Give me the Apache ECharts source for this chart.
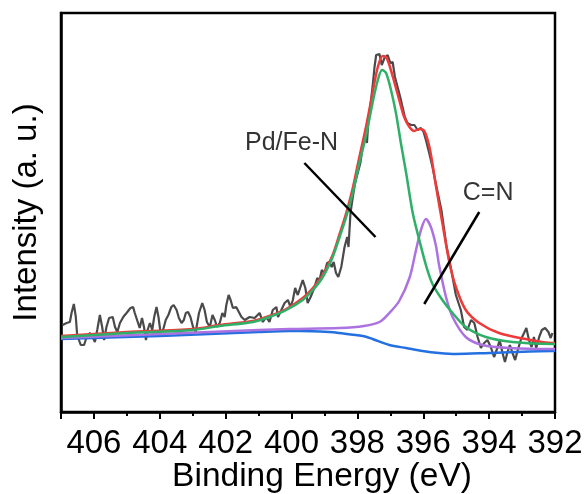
<!DOCTYPE html>
<html>
<head>
<meta charset="utf-8">
<title>N 1s XPS</title>
<script src="https://cdn.jsdelivr.net/npm/echarts@6/dist/echarts.min.js"></script>
<style>
  html, body { margin: 0; padding: 0; background: #fff; }
  #chart { width: 587px; height: 494px; }
</style>
</head>
<body>
<div id="chart"></div>
<script>
// N 1s spectrum: [binding energy (eV), intensity (a. u.)]
const rawSpectrum = [
  [406.95,87],[406.83,89],[406.73,90],[406.68,99],[406.61,108],[406.55,95],[406.51,77],[406.40,67],
  [406.30,67],[406.22,75],[406.12,79],[406.04,75],[405.97,70],[405.90,82],[405.82,97],[405.75,85],
  [405.69,72],[405.62,85],[405.54,94],[405.43,95],[405.36,85],[405.29,80],[405.21,89],[405.11,95],
  [405.01,99],[404.96,97],[404.89,104],[404.81,105],[404.76,99],[404.69,92],[404.61,84],[404.54,94],
  [404.48,85],[404.42,72],[404.37,82],[404.30,89],[404.23,82],[404.17,95],[404.10,105],[404.04,95],
  [403.98,80],[403.90,82],[403.82,92],[403.74,97],[403.65,105],[403.58,107],[403.49,102],[403.42,94],
  [403.34,89],[403.27,92],[403.21,99],[403.14,100],[403.07,95],[402.99,85],[402.91,80],[402.81,99],
  [402.71,109],[402.64,102],[402.57,90],[402.48,85],[402.40,97],[402.33,92],[402.26,85],[402.18,89],
  [402.10,99],[402.03,95],[401.98,107],[401.91,117],[401.85,112],[401.78,104],[401.68,105],[401.60,100],
  [401.52,95],[401.42,92],[401.27,95],[401.12,94],[400.97,99],[400.87,90],[400.77,95],[400.67,90],
  [400.57,102],[400.46,105],[400.41,95],[400.31,102],[400.21,109],[400.11,112],[400.03,105],[399.96,112],
  [399.89,124],[399.81,117],[399.73,125],[399.66,132],[399.58,124],[399.51,109],[399.42,115],[399.30,125],
  [399.22,134],[399.15,132],[399.08,142],[399.00,139],[398.92,149],[398.85,150],[398.78,145],[398.72,150],
  [398.65,139],[398.58,135],[398.49,145],[398.39,165],[398.31,175],[398.27,165],[398.21,199],[398.14,215],
  [398.07,229],[397.99,239],[397.91,249],[397.84,265],[397.77,275],[397.71,269],[397.67,289],[397.61,305],
  [397.54,325],[397.48,345],[397.43,357],[397.33,358],[397.26,347],[397.18,354],[397.08,357],[397.00,349],
  [396.93,350],[396.86,335],[396.78,325],[396.70,315],[396.63,305],[396.56,295],[396.48,289],[396.37,287],
  [396.27,287],[396.17,282],[396.07,284],[395.99,280],[395.92,272],[395.82,259],[395.72,245],[395.61,227],
  [395.45,202],[395.30,167],[395.15,142],[395.01,117],[394.86,102],[394.76,85],[394.66,82],[394.55,92],
  [394.45,89],[394.35,75],[394.25,64],[394.15,69],[394.05,72],[393.95,65],[393.85,55],[393.75,64],
  [393.68,72],[393.60,60],[393.52,50],[393.45,59],[393.37,67],[393.29,59],[393.21,52],[393.13,62],
  [393.04,72],[392.94,79],[392.87,84],[392.79,72],[392.71,65],[392.64,75],[392.57,64],[392.48,75],
  [392.40,82],[392.30,84],[392.20,80],[392.13,74],[392.08,79]
];

// Sum of fitted components
const envelopeFit = [
  [407,76],[405,80],[403,83],[402.18,87],[401.17,91],[400.67,96],[400.16,103],[399.66,114],
  [399.35,124],[399.05,137],[398.75,157],[398.55,177],[398.34,199],[398.14,224],[397.94,255],
  [397.74,285],[397.54,319],[397.38,345],[397.23,356],[397.13,355],[397.03,347],[396.88,330],
  [396.73,312],[396.58,295],[396.42,285],[396.27,281],[396.12,283],[395.97,281],[395.82,266],
  [395.72,248],[395.62,227],[395.42,189],[395.21,150],[395.01,125],[394.71,102],[394.30,89],
  [393.70,79],[392.89,73],[392.08,69],[392,69]
];

// Pd/Fe-N component
const pdFeNFit = [
  [407,75],[405,79],[403,82],[402.18,86],[401.17,90],[400.67,95],[400.16,102],[399.66,112],
  [399.35,122],[399.05,135],[398.75,155],[398.55,174],[398.34,195],[398.14,219],[397.94,249],
  [397.74,276],[397.54,309],[397.38,332],[397.25,342],[397.13,339],[396.98,322],[396.83,299],
  [396.68,269],[396.52,239],[396.32,199],[396.12,172],[395.92,147],[395.72,128],[395.42,112],
  [395.11,99],[394.71,85],[394.10,75],[393.29,70],[392.08,68],[392,68]
];

// C=N component
const cnFit = [
  [407,74],[404,78],[401,82],[400.06,83],[398.55,84],[397.80,86],[397.33,90],[397.03,99],
  [396.73,111],[396.42,134],[396.22,162],[396.07,182],[395.92,193],[395.77,185],[395.62,167],
  [395.52,147],[395.31,115],[395.11,95],[394.71,75],[394.20,67],[393.39,64],[392.08,63],[392,63]
];

// Shirley background
const shirleyBackground = [
  [407,73],[404,76],[401,80],[400.06,81],[399.76,81],[398.85,80],[398.55,79],[397.84,76],
  [397.54,73],[397.03,67],[396.52,64],[396.02,61],[395.52,59],[395.01,58],[394.0,59],
  [392.09,61],[392,61]
];

// Peak labels and their leader lines
const peakLabels = [
  { name: 'Pd/Fe-N', value: [400.0, 269] },
  { name: 'C=N', value: [394.03, 219] }
];
const pdFeNLeader = [[399.61, 249], [397.45, 175]];
const cnLeader = [[394.30, 200], [395.97, 108]];

const FONT = "'Liberation Sans', Arial, sans-serif";

function curve(data, color, z) {
  return {
    type: 'line', data, smooth: 0.3, symbol: 'none', z,
    lineStyle: { color, width: 2.5 }, silent: true
  };
}
function leader(data) {
  return {
    type: 'line', data, symbol: 'none', z: 10, silent: true,
    lineStyle: { color: '#000', width: 2.5 }
  };
}

const chart = echarts.init(document.getElementById('chart'), null, { renderer: 'canvas' });
chart.setOption({
  animation: false,
  backgroundColor: '#fff',
  grid: {
    left: 61, right: 32, top: 13, bottom: 82,
    outerBoundsMode: 'none', containLabel: false,
    show: true, borderColor: '#000', borderWidth: 2.5
  },
  xAxis: {
    type: 'value', inverse: true, min: 392, max: 407, interval: 2,
    name: 'Binding Energy (eV)', nameLocation: 'middle', nameGap: 48, nameMoveOverlap: false,
    nameTextStyle: { fontFamily: FONT, fontSize: 33.5, color: '#000', padding: [0, 0, 0, 28] },
    axisLine: { lineStyle: { color: '#000', width: 2.5 } },
    axisTick: { length: 7, lineStyle: { color: '#000', width: 2 } },
    minorTick: { show: true, splitNumber: 2, length: 4, lineStyle: { color: '#000', width: 2 } },
    splitLine: { show: false },
    axisLabel: {
      fontFamily: FONT, fontSize: 33, color: '#000', margin: 15,
      showMaxLabel: false, hideOverlap: false
    }
  },
  yAxis: {
    type: 'value', min: 0, max: 399,
    name: 'Intensity (a. u.)', nameLocation: 'middle', nameGap: 18, nameMoveOverlap: false,
    nameTextStyle: { fontFamily: FONT, fontSize: 33, color: '#000' },
    axisLine: { show: true, lineStyle: { color: '#000', width: 2.5 } },
    axisTick: { show: false }, axisLabel: { show: false }, splitLine: { show: false }
  },
  series: [
    {
      type: 'line', data: rawSpectrum, symbol: 'none', z: 1, silent: true,
      lineStyle: { color: '#4a4a4a', width: 2.2 }
    },
    curve(envelopeFit, '#ef3a3a', 2),
    curve(shirleyBackground, '#2470e0', 3),
    curve(cnFit, '#ac72e0', 4),
    curve(pdFeNFit, '#2eb069', 5),
    leader(pdFeNLeader),
    leader(cnLeader),
    {
      type: 'scatter', data: peakLabels, symbolSize: 0, z: 11, silent: true,
      label: {
        show: true, position: 'inside', formatter: p => p.name,
        fontFamily: FONT, fontSize: 25, color: '#000'
      }
    }
  ]
});
</script>
</body>
</html>
